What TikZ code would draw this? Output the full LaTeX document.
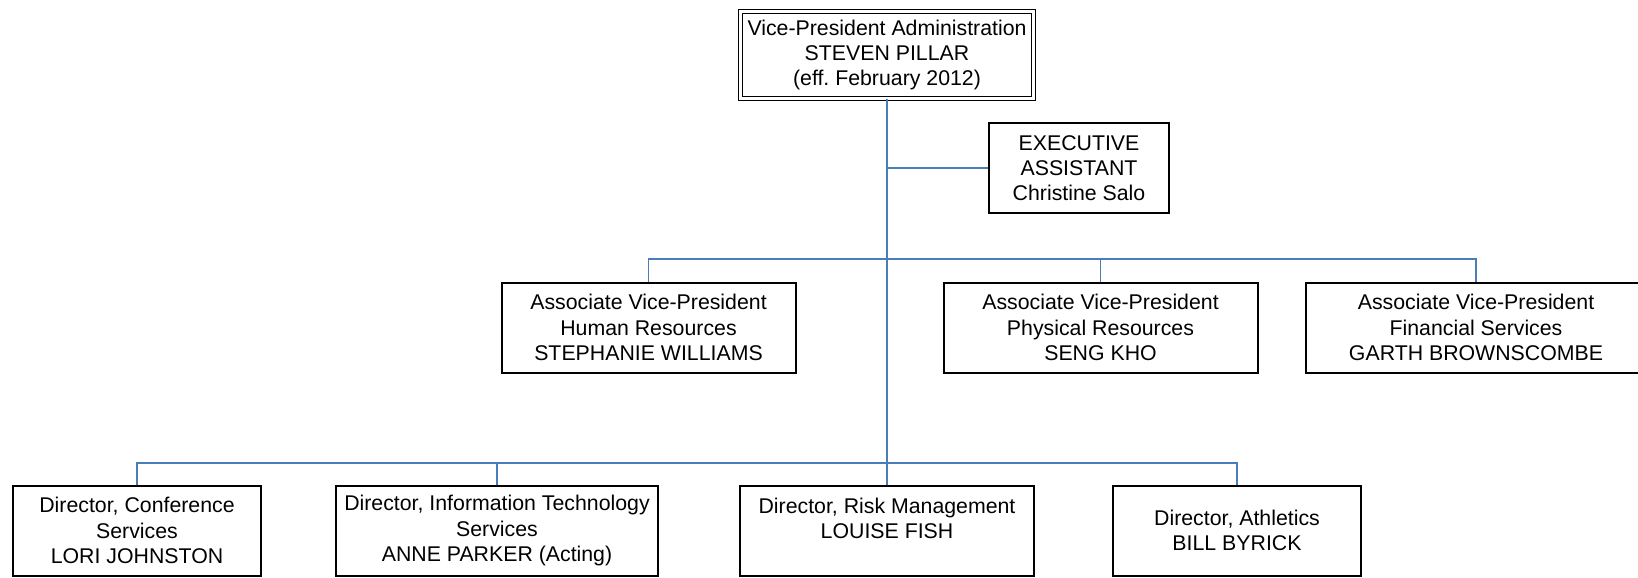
\documentclass[tikz,border=0pt]{standalone}
\usepackage{fontspec}
\setmainfont{Liberation Sans}
\definecolor{linkblue}{HTML}{4A7EBB}
\frenchspacing
\begin{document}
\begin{tikzpicture}[x=0.5pt,y=-0.5pt,
  box/.style={draw, line width=1pt, align=center, inner sep=0pt, minimum height=45pt,
    font=\fontsize{10.65}{12.6}\selectfont},
  link/.style={draw=linkblue, line width=0.75pt},
  trunk/.style={draw=linkblue, line width=1.3pt}]
\useasboundingbox (0,0) rectangle (1638,578);
\coordinate (A) at (887,55);
\coordinate (B) at (1079,168);
\coordinate (C) at (648.5,327.5);
\coordinate (D) at (1100.5,327.5);
\coordinate (E) at (1476,327.5);
\coordinate (F) at (137,530.5);
\coordinate (G) at (497,530.5);
\coordinate (H) at (887,530.5);
\coordinate (I) at (1237,530.5);
\coordinate (U) at (887,259);
\coordinate (W) at (887,463);

\node [box, double, double distance=1.5pt, line width=0.5pt, minimum width=146.5pt, minimum height=43.5pt] (VP) at (A) {Vice-President Administration\\STEVEN PILLAR\\(eff. February 2012)};
\node [box, minimum width=90pt] (EA) at (B) {EXECUTIVE\\ASSISTANT\\Christine Salo};
\node [box, minimum width=147pt] (HR) at (C) {Associate Vice-President\\Human Resources\\STEPHANIE WILLIAMS};
\node [box, minimum width=157pt] (PR) at (D) {Associate Vice-President\\Physical Resources\\SENG KHO};
\node [box, minimum width=170pt] (FS) at (E) {Associate Vice-President\\Financial Services\\GARTH BROWNSCOMBE};
\node [box, minimum width=124pt] (CS) at (F) {Director, Conference\\Services\\LORI JOHNSTON};
\node [box, minimum width=161pt] (IT) at (G) {Director, Information Technology\\Services\\ANNE PARKER (Acting)};
\node [box, minimum width=147pt] (RM) at (H) {Director, Risk Management\\LOUISE FISH\\~};
\node [box, minimum width=124pt] (AT) at (I) {Director, Athletics\\BILL BYRICK};

\draw [trunk] (VP.south) -- (RM.north);
\draw [link] (VP.south) |- (EA.west);
\draw [link] (U) -| (HR.north);
\draw [link] (U) -| (PR.north);
\draw [link] (U) -| (FS.north);
\draw [link] (W) -| (CS.north);
\draw [link] (W) -| (IT.north);
\draw [link] (W) -| (AT.north);
\end{tikzpicture}
\end{document}
